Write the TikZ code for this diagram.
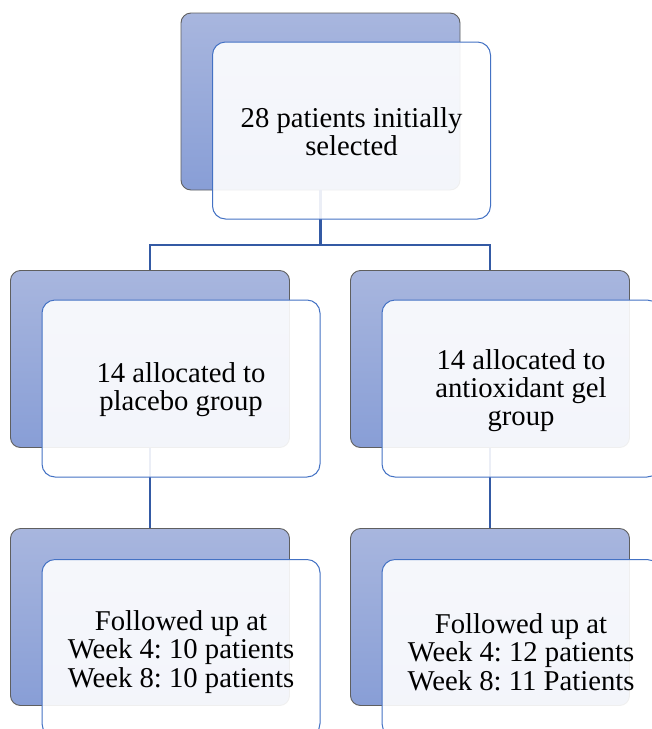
\documentclass[tikz,border=0pt]{standalone}
\usepackage{fontspec}
\setmainfont{Liberation Serif}
\frenchspacing
\definecolor{backtop}{RGB}{168,182,222}
\definecolor{backbot}{RGB}{136,158,214}
\definecolor{backline}{RGB}{95,95,95}
\definecolor{frontline}{RGB}{68,114,196}
\definecolor{connline}{RGB}{52,90,164}
\tikzset{
  backbox/.style={rectangle, rounded corners=10pt, minimum width=279pt, minimum height=177pt,
    top color=backtop, bottom color=backbot, draw=backline, line width=0.9pt, inner sep=0pt},
  frontbox/.style={rectangle, rounded corners=13pt, minimum width=278pt, minimum height=177pt,
    fill=white, fill opacity=0.9, draw=frontline, line width=1pt, inner sep=0pt},
  boxtext/.style={align=center, font=\fontsize{28.7}{28.3}\selectfont, inner sep=0pt},
  conn/.style={draw=connline, line width=2.5pt}
}
\begin{document}
\begin{tikzpicture}[x=1pt,y=-1pt]
\useasboundingbox (0,0) rectangle (652,729);
\clip (0,0) rectangle (652,729);
\fill[white] (0,0) rectangle (652,729);
% back boxes
\node[backbox] (b1) at (320.5,101.5) {};
\node[backbox] (b2) at (150,359) {};
\node[backbox] (b3) at (490,359) {};
\node[backbox] (b4) at (150,617) {};
\node[backbox] (b5) at (490,617) {};
% connectors
\coordinate (j) at (320.5,245);
\draw[conn] (b1.south) -- (j) -| (b2.north);
\draw[conn] (j) -| (b3.north);
\draw[conn] (b2.south) -- (b4.north);
\draw[conn] (b3.south) -- (b5.north);
% front boxes
\node[frontbox] (f1) at (351.5,130.5) {};
\node[frontbox] (f2) at (181,388.5) {};
\node[frontbox] (f3) at (521,388.5) {};
\node[frontbox] (f4) at (181,648) {};
\node[frontbox] (f5) at (521,648) {};
% texts
\node[boxtext] (t1) at ([yshift=-1pt]f1.center) {28 patients initially\\selected};
\node[boxtext] (t2) at ([yshift=-1pt]f2.center) {14 allocated to\\placebo group};
\node[boxtext] (t3) at ([yshift=-2pt]f3.center) {14 allocated to\\antioxidant gel\\group};
\node[boxtext] (t4) at ([yshift=-4pt]f4.center) {Followed up at\\Week 4: 10 patients\\Week 8: 10 patients};
\node[boxtext] (t5) at ([yshift=-4pt]f5.center) {Followed up at\\Week 4: 12 patients\\Week 8: 11 Patients};
\end{tikzpicture}
\end{document}
